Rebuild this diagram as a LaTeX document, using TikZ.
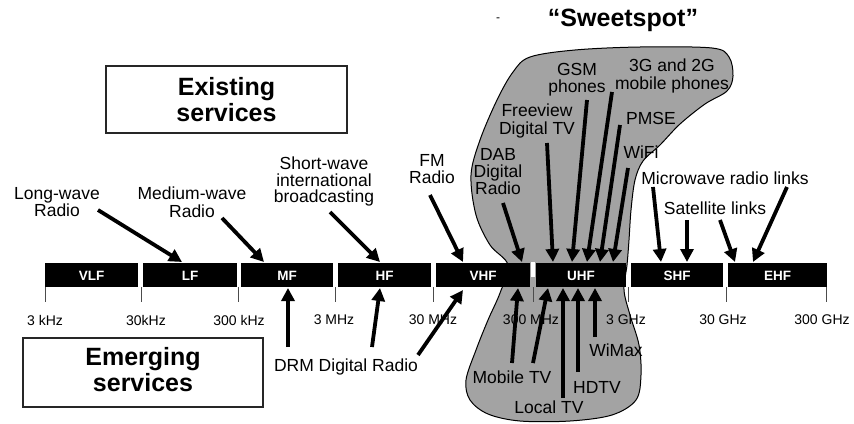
\documentclass[tikz,border=0pt]{standalone}
\usepackage{fontspec}
\setmainfont{Liberation Sans}
\usetikzlibrary{arrows.meta}
\begin{document}
\begin{tikzpicture}[x=1pt,y=-1pt,
  lbl/.style={font=\fontsize{17.5}{17.5}\selectfont, align=center, inner sep=0pt},
  freq/.style={font=\fontsize{14}{14}\selectfont, inner sep=0pt},
  bandlbl/.style={font=\bfseries\fontsize{13.5}{13.5}\selectfont, text=white, inner sep=0pt},
  seg/.style={fill=black, draw=none},
  tick/.style={draw=black!70, line width=0.8pt},
  bigbox/.style={draw=black!85, line width=1.2pt, fill=white},
  bigtxt/.style={font=\bfseries\fontsize{25}{26.6}\selectfont, align=center, inner sep=0pt},
  arr/.style={line width=3.8pt, -{Triangle[length=13pt,width=13pt]}},
  blobstyle/.style={fill=black!36, draw=black, line width=1pt}
]
\useasboundingbox (0,0) rectangle (854,423);
\fill[white] (0,0) rectangle (854,423);

% sweet spot blob
\path[blobstyle] plot[smooth cycle, tension=0.55] coordinates {
 (530,57) (575,50) (640,47) (712,48) (729,57) (733,76) (727,91) (705,104)
 (680,124) (660,145) (643,161) (635,180) (631,210) (629,240) (627,265)
 (624,290) (630,315) (639,345) (641,375) (636,400) (612,415) (570,421)
 (520,421) (488,414) (470,400) (466,380) (476,350) (488,320) (500,293)
 (508,265) (490,245) (476,215) (471,175) (480,140) (497,100) (513,72)};

% title
\node[font=\bfseries\fontsize{25}{25}\selectfont, inner sep=0pt] (sweet) at (623,20) {“Sweetspot”};
\node[font=\fontsize{12}{12}\selectfont, inner sep=0pt] (dash) at (498,20) {-};

% boxes
\draw[bigbox] (106,66) rectangle (347,133);
\node[bigtxt] (exist) at (226.5,99.4) {Existing\\services};
\draw[bigbox] (23,338) rectangle (263,407);
\node[bigtxt] (emerg) at (143,369.5) {Emerging\\services};

% band
\foreach \n/\a/\b in {VLF/45/138, LF/143/237, MF/241/333, HF/338/431, VHF/436/530, UHF/536/626, SHF/631/723, EHF/728/827}{
  \fill[seg] (\a,263) rectangle (\b,287);
  \node[bandlbl] (\n) at ({(\a+\b)/2},275.5) {\n};
}
\fill[white] (530.6,262) rectangle (535.4,277);

% ticks and frequency labels
\foreach \t in {45,141,238,335,433,533,628,726,826}{
  \draw[tick] (\t,287) -- (\t,302);
}
\foreach \n/\x/\s in {f1/45/3 kHz, f2/146/30kHz, f3/239/300 kHz, f4/334/3 MHz, f5/433/30 MHz, f6/531/300 MHz, f7/626/3 GHz, f8/723/30 GHz, f9/822/300 GHz}{
  \node[freq] (\n) at (\x,320) {\s};
}

% labels, existing
\node[lbl] (lw) at (57,202) {Long-wave\\Radio};
\node[lbl] (mw) at (192,202) {Medium-wave\\Radio};
\node[lbl, font=\fontsize{17.5}{16.6}\selectfont] (sw) at (324,181.5) {Short-wave\\international\\broadcasting};
\node[lbl] (fm) at (432,169) {FM\\Radio};
\node[lbl, font=\fontsize{17.5}{17}\selectfont] (dab) at (498,172) {DAB\\Digital\\Radio};
\node[lbl] (fv) at (537,121) {Freeview\\Digital TV};
\node[lbl] (gsm) at (577,79.5) {GSM\\phones};
\node[lbl] (g3) at (672,76) {3G and 2G\\mobile phones};
\node[lbl] (pmse) at (651,118) {PMSE};
\node[lbl] (wifi) at (641,152) {WiFi};
\node[lbl] (mwl) at (725,178) {Microwave radio links};
\node[lbl] (sat) at (715,208) {Satellite links};
% labels, emerging
\node[lbl] (drm) at (346,367) {DRM Digital Radio};
\node[lbl] (mob) at (512,377) {Mobile TV};
\node[lbl] (loc) at (549,407) {Local TV};
\node[lbl] (hd) at (597,387) {HDTV};
\node[lbl] (wim) at (616,350) {WiMax};

% arrows
\foreach \n/\a/\b in {
  alw/{98,210}/{182,262}, amw/{222,218}/{264,262}, asw/{330,212}/{380,262},
  afm/{430,195}/{463,262}, adab/{503,203}/{522,262}, afv/{547,143}/{553,262},
  agsm/{587,100}/{572,262}, ag3/{612,92}/{587,262}, apm/{620,125}/{600,262},
  awf/{628,168}/{613,262}, amw1/{653,187}/{661,262}, asat1/{687,220}/{687,262},
  asat2/{720,220}/{735,262}, amw2/{787,187}/{753,262},
  adrm1/{288,347}/{288,288}, adrm2/{372,347}/{380,288}, adrm3/{418,355}/{463,290},
  amob1/{512,363}/{518,288}, amob2/{533,363}/{548,288}, aloc/{563,398}/{563,288},
  ahd/{578,372}/{578,288}, awm/{595,337}/{595,288}}{
  \coordinate (\n s) at (\a);
  \coordinate (\n e) at (\b);
  \draw[arr] (\n s) -- (\n e);
}
\end{tikzpicture}
\end{document}
